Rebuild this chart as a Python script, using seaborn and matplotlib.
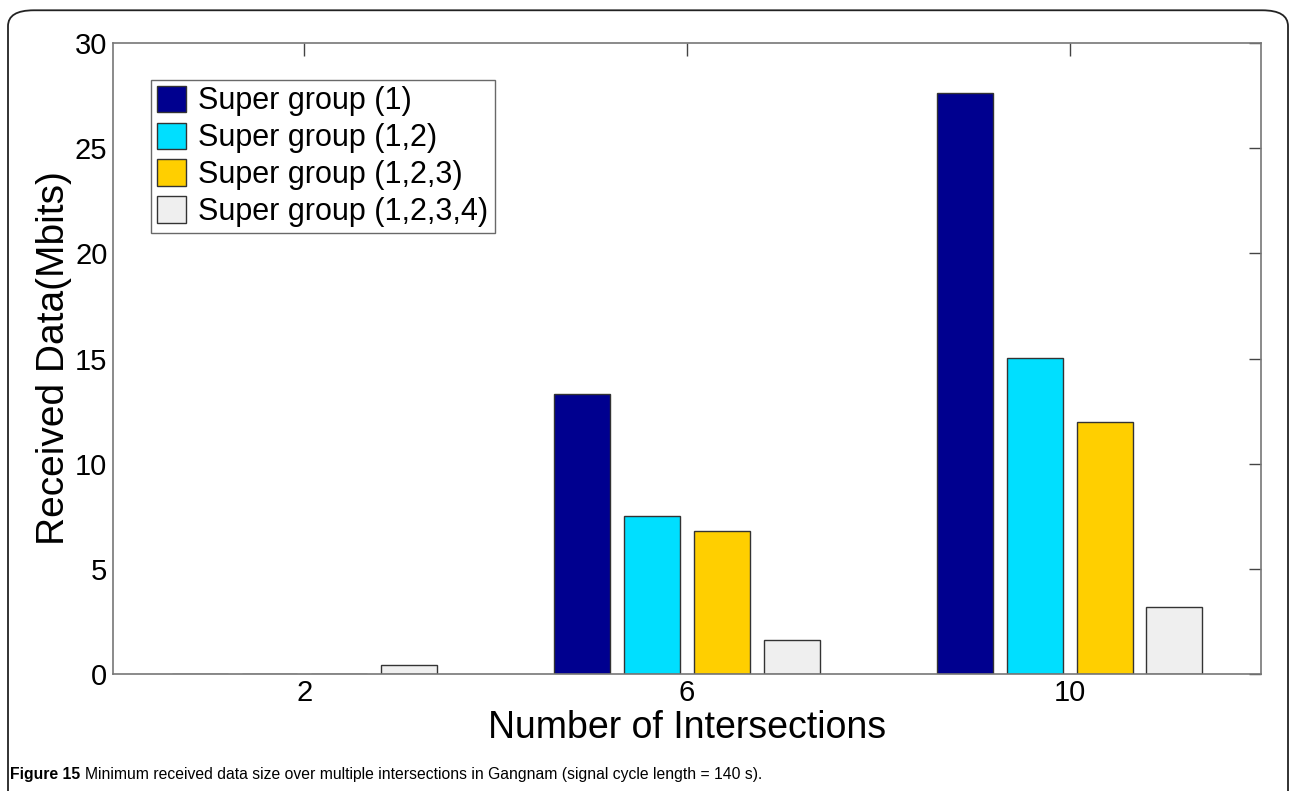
import pandas as pd
import matplotlib.pyplot as plt
import seaborn as sns
from matplotlib.patches import FancyBboxPatch

# values
intersections = [2, 6, 10]
series_names = ['Super group (1)', 'Super group (1,2)', 'Super group (1,2,3)', 'Super group (1,2,3,4)']
sg1 = [0.0, 13.3, 27.65]
sg12 = [0.0, 7.53, 15.04]
sg123 = [0.0, 6.78, 11.98]
sg1234 = [0.43, 1.59, 3.16]
bar_colors = ['#00008F', '#00DFFF', '#FFCF00', '#EFEFEF']

rows = []
for name, vals in zip(series_names, [sg1, sg12, sg123, sg1234]):
    for x, v in zip(intersections, vals):
        rows.append({'Intersections': x, 'Received': v, 'Group': name})
df = pd.DataFrame(rows)

sns.set_style('white')
plt.rcParams['font.family'] = ['Liberation Sans', 'DejaVu Sans']
plt.rcParams['text.color'] = 'black'
plt.rcParams['axes.labelcolor'] = 'black'
plt.rcParams['xtick.color'] = 'black'
plt.rcParams['ytick.color'] = 'black'

fig = plt.figure(figsize=(12.92, 7.91), dpi=100)
ax = fig.add_axes([0.0875, 0.148, 0.8885, 0.7975])

sns.barplot(data=df, x='Intersections', y='Received', hue='Group',
            hue_order=series_names, palette=bar_colors, native_scale=True,
            width=0.73, gap=0.2, edgecolor='#333333', linewidth=1.0,
            saturation=1, errorbar=None, ax=ax)

ax.set_xlim(0, 12)
ax.set_ylim(0, 30)
ax.set_xticks(intersections)
ax.set_xticklabels([str(v) for v in intersections])
ax.set_yticks([0, 5, 10, 15, 20, 25, 30])
ax.tick_params(axis='both', which='both', direction='in', length=9, width=1,
               color='#444444', labelsize=21, top=True, right=True, pad=4)
for s in ax.spines.values():
    s.set_visible(True)
    s.set_color('#777777')
    s.set_linewidth(1.2)

ax.set_xlabel('Number of Intersections', fontsize=27, labelpad=2)
ax.set_ylabel('Received Data(Mbits)', fontsize=28, labelpad=2)

leg = ax.legend(loc='upper left', bbox_to_anchor=(0.033, 0.942), fontsize=22,
                frameon=True, fancybox=False, edgecolor='#444444',
                handlelength=0.95, handleheight=0.95, handletextpad=0.4,
                labelspacing=0.2, borderpad=0.2, borderaxespad=0)
leg.get_frame().set_linewidth(1.0)

# rounded frame around the figure panel and caption
frame = FancyBboxPatch((8 / 1292, -0.05), 1280 / 1292, 1.037,
                       boxstyle='round,pad=0,rounding_size=0.02',
                       transform=fig.transFigure, fill=False,
                       edgecolor='#222222', linewidth=1.3, clip_on=False)
fig.patches.append(frame)

cap_y = 1 - 775 / 791
t1 = fig.text(10 / 1292, cap_y, 'Figure 15', fontsize=11.3, fontweight='bold',
              va='center', ha='left')
fig.canvas.draw()
bb = t1.get_window_extent()
fig.text((bb.x1 + 5) / 1292, cap_y,
         'Minimum received data size over multiple intersections in Gangnam (signal cycle length = 140 s).',
         fontsize=11.3, va='center', ha='left')

fig.savefig('out.png', dpi=100)
